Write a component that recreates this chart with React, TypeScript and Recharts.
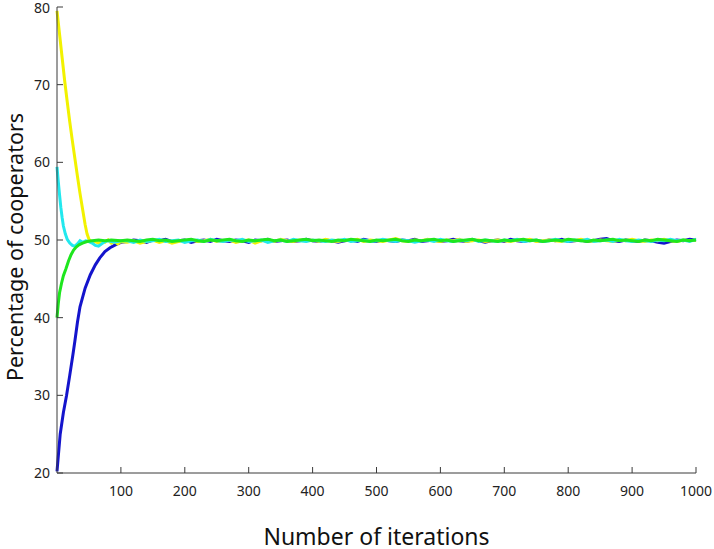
import { LineChart, Line, XAxis, YAxis, Label } from 'recharts'

// Iterations (dense at the start, every 10 afterwards)
const TAIL_X = Array.from({ length: 90 }, (_, i) => 110 + i * 10)

const X_TICKS = [100, 200, 300, 400, 500, 600, 700, 800, 900, 1000]
const Y_TICKS = [20, 30, 40, 50, 60, 70, 80]

// blue: starts at 20 %
const blueHeadX = [0, 5, 10, 15, 20, 25, 28, 32, 36, 44, 52, 60, 67, 75, 83, 92, 100]
const blueHeadY = [20.2, 25, 27.8, 30, 32.6, 35.3, 37, 39.4, 41.4, 43.8, 45.5, 46.8, 47.7, 48.5, 49, 49.4, 49.7]
const blueTailY = [
  49.8, 50.0, 49.9, 49.7, 50.0, 49.9, 50.1, 49.8, 49.9, 50.0,
  49.7, 49.9, 50.0, 49.8, 50.1, 49.9, 49.8, 50.0, 49.9, 49.7,
  50.0, 49.9, 50.1, 49.8, 49.9, 50.0, 49.8, 49.9, 50.1, 49.9,
  49.8, 50.0, 49.9, 49.7, 49.9, 50.0, 49.8, 50.1, 49.9, 49.8,
  50.0, 49.9, 49.8, 50.0, 49.9, 50.1, 49.8, 49.9, 50.0, 49.8,
  49.9, 50.1, 49.9, 49.8, 50.0, 49.9, 49.7, 49.9, 50.0, 49.8,
  50.1, 49.9, 49.8, 50.0, 49.9, 49.8, 50.0, 49.9, 50.1, 49.8,
  49.9, 50.0, 49.8, 49.9, 50.1, 50.2, 49.9, 49.8, 50.0, 49.9,
  49.8, 50.0, 49.9, 49.7, 49.6, 49.8, 50.0, 49.9, 50.1, 50.0,
]

// yellow: starts at 80 %
const yellowHeadX = [0, 4, 8, 12, 16, 20, 24, 28, 32, 36, 40, 44, 47, 50, 55, 60, 65, 70, 75, 80, 85, 90, 95, 100]
const yellowHeadY = [79.5, 76.5, 73.5, 70.5, 67.8, 65.2, 62.8, 60.5, 58.2, 56, 54, 52, 50.8, 50.1, 49.7, 49.8, 49.6, 49.9, 49.7, 50, 49.6, 49.8, 49.5, 49.8]
const yellowTailY = [
  49.7, 49.9, 49.6, 49.8, 50.0, 49.7, 49.9, 49.6, 49.8, 49.9,
  50.0, 49.8, 49.9, 50.1, 49.8, 49.9, 50.0, 49.7, 49.9, 50.0,
  49.6, 49.9, 50.0, 49.8, 50.1, 49.9, 49.8, 50.0, 49.9, 50.0,
  49.8, 50.1, 49.9, 49.8, 50.0, 49.9, 50.1, 49.8, 50.0, 49.9,
  49.8, 50.0, 50.2, 49.9, 49.8, 50.0, 49.9, 50.1, 49.9, 49.8,
  50.0, 49.9, 50.1, 49.8, 49.9, 50.0, 49.8, 49.9, 50.0, 49.9,
  49.8, 50.0, 49.9, 50.1, 49.8, 49.9, 50.0, 49.9, 49.8, 50.0,
  49.9, 50.1, 49.9, 49.8, 50.0, 49.9, 49.8, 50.0, 49.9, 50.1,
  49.9, 49.8, 50.0, 49.9, 50.1, 49.9, 49.8, 50.0, 49.9, 50.0,
]

// cyan: starts at 60 %
const cyanHeadX = [0, 2, 4, 6, 8, 10, 13, 16, 20, 24, 28, 32, 36, 40, 45, 50, 55, 60, 65, 70, 75, 80, 90, 100]
const cyanHeadY = [59.4, 57.5, 55.8, 54.2, 52.9, 51.8, 50.8, 50.1, 49.6, 49.3, 49.2, 49.5, 49.9, 49.7, 49.9, 49.8, 49.6, 49.3, 49.2, 49.5, 49.8, 49.9, 49.7, 49.9]
const cyanTailY = [
  49.9, 49.7, 50.0, 49.8, 49.9, 50.1, 49.8, 49.9, 50.0, 49.7,
  49.9, 50.0, 49.8, 50.1, 49.9, 49.8, 50.0, 49.9, 50.1, 49.8,
  49.9, 50.0, 49.7, 49.9, 50.0, 49.8, 50.1, 49.9, 49.8, 50.0,
  49.9, 49.8, 50.0, 49.9, 50.1, 49.8, 49.9, 50.0, 49.8, 49.9,
  50.1, 49.9, 49.8, 50.0, 49.9, 49.7, 49.9, 50.0, 49.8, 50.1,
  49.9, 49.8, 50.0, 49.9, 50.1, 49.8, 50.0, 49.9, 49.8, 50.0,
  49.9, 50.1, 49.8, 49.9, 50.0, 49.8, 49.9, 50.1, 49.9, 49.8,
  50.0, 49.9, 50.1, 49.8, 49.9, 50.0, 49.8, 50.1, 49.9, 49.8,
  50.0, 49.9, 49.8, 50.0, 49.9, 50.1, 49.9, 50.0, 49.8, 50.1,
]

// green: starts at 40 %
const greenHeadX = [0, 2, 4, 7, 10, 14, 18, 22, 26, 30, 35, 40, 47, 55, 65, 75, 85, 100]
const greenHeadY = [40, 41.8, 43.2, 44.4, 45.4, 46.3, 47.3, 48.1, 48.7, 49.1, 49.4, 49.6, 49.8, 49.9, 50, 49.9, 50, 49.9]
const greenTailY = [
  50.0, 49.9, 49.8, 50.0, 50.1, 49.9, 50.0, 49.8, 49.9, 50.0,
  50.1, 49.9, 49.8, 50.0, 49.9, 50.0, 50.1, 49.9, 49.8, 50.0,
  49.9, 50.0, 50.1, 49.9, 50.0, 49.8, 49.9, 50.0, 50.1, 49.9,
  50.0, 49.9, 49.8, 50.0, 49.9, 50.1, 50.0, 49.9, 49.8, 50.0,
  49.9, 50.0, 50.1, 49.9, 49.8, 50.0, 49.9, 50.0, 50.1, 49.9,
  50.0, 49.8, 49.9, 50.0, 50.1, 49.9, 50.0, 49.9, 49.8, 50.0,
  49.9, 50.0, 50.1, 49.9, 50.0, 49.8, 49.9, 50.0, 49.9, 50.1,
  50.0, 49.9, 49.8, 50.0, 49.9, 50.0, 50.1, 49.9, 50.0, 49.9,
  49.8, 50.0, 49.9, 50.1, 50.0, 49.9, 49.8, 50.0, 49.9, 50.0,
]

const toPoints = (headX: number[], headY: number[], tailY: number[]) => [
  ...headX.map((x, i) => ({ x, y: headY[i] })),
  ...TAIL_X.map((x, i) => ({ x, y: tailY[i] })),
]

const SERIES = [
  { name: 'blue', color: '#1414cc', data: toPoints(blueHeadX, blueHeadY, blueTailY) },
  { name: 'yellow', color: '#f2f200', data: toPoints(yellowHeadX, yellowHeadY, yellowTailY) },
  { name: 'cyan', color: '#22e8ee', data: toPoints(cyanHeadX, cyanHeadY, cyanTailY) },
  { name: 'green', color: '#1ee61e', data: toPoints(greenHeadX, greenHeadY, greenTailY) },
]

const FONT = '"Noto Sans", sans-serif'
const AXIS_COLOR = '#3a3a3a'

// rotated y title, nudged a bit below the plot centre like the original
function YTitle({ viewBox }: any) {
  const cx = 14
  const cy = viewBox.y + viewBox.height / 2 + 7
  return (
    <text
      x={cx}
      y={cy}
      transform={`rotate(-90, ${cx}, ${cy})`}
      textAnchor="middle"
      dominantBaseline="central"
      fill="#111"
      fontSize={21.5}
      fontFamily={FONT}
    >
      Percentage of cooperators
    </text>
  )
}

export default function App() {
  return (
    <div style={{ position: 'absolute', left: 0, top: 0, background: '#fff' }}>
      <LineChart
        width={714}
        height={549}
        margin={{ top: 7, right: 18, left: 0, bottom: 0 }}
      >
        <XAxis
          type="number"
          dataKey="x"
          domain={[0, 1000]}
          ticks={X_TICKS}
          allowDuplicatedCategory={false}
          height={76}
          tickSize={-6}
          tickMargin={19}
          stroke={AXIS_COLOR}
          tick={{ fill: '#222', fontSize: 14, fontFamily: FONT }}
        >
          <Label
            value="Number of iterations"
            position="insideBottom"
            offset={4}
            style={{ fill: '#111', fontSize: 23, fontFamily: FONT }}
          />
        </XAxis>
        <YAxis
          type="number"
          domain={[20, 80]}
          ticks={Y_TICKS}
          width={57}
          tickSize={-6}
          tickMargin={13}
          stroke={AXIS_COLOR}
          tick={{ fill: '#222', fontSize: 14, fontFamily: FONT }}
        >
          <Label content={YTitle} />
        </YAxis>
        {SERIES.map((s) => (
          <Line
            key={s.name}
            data={s.data}
            dataKey="y"
            type="linear"
            stroke={s.color}
            strokeWidth={3}
            dot={false}
            isAnimationActive={false}
          />
        ))}
      </LineChart>
    </div>
  )
}
